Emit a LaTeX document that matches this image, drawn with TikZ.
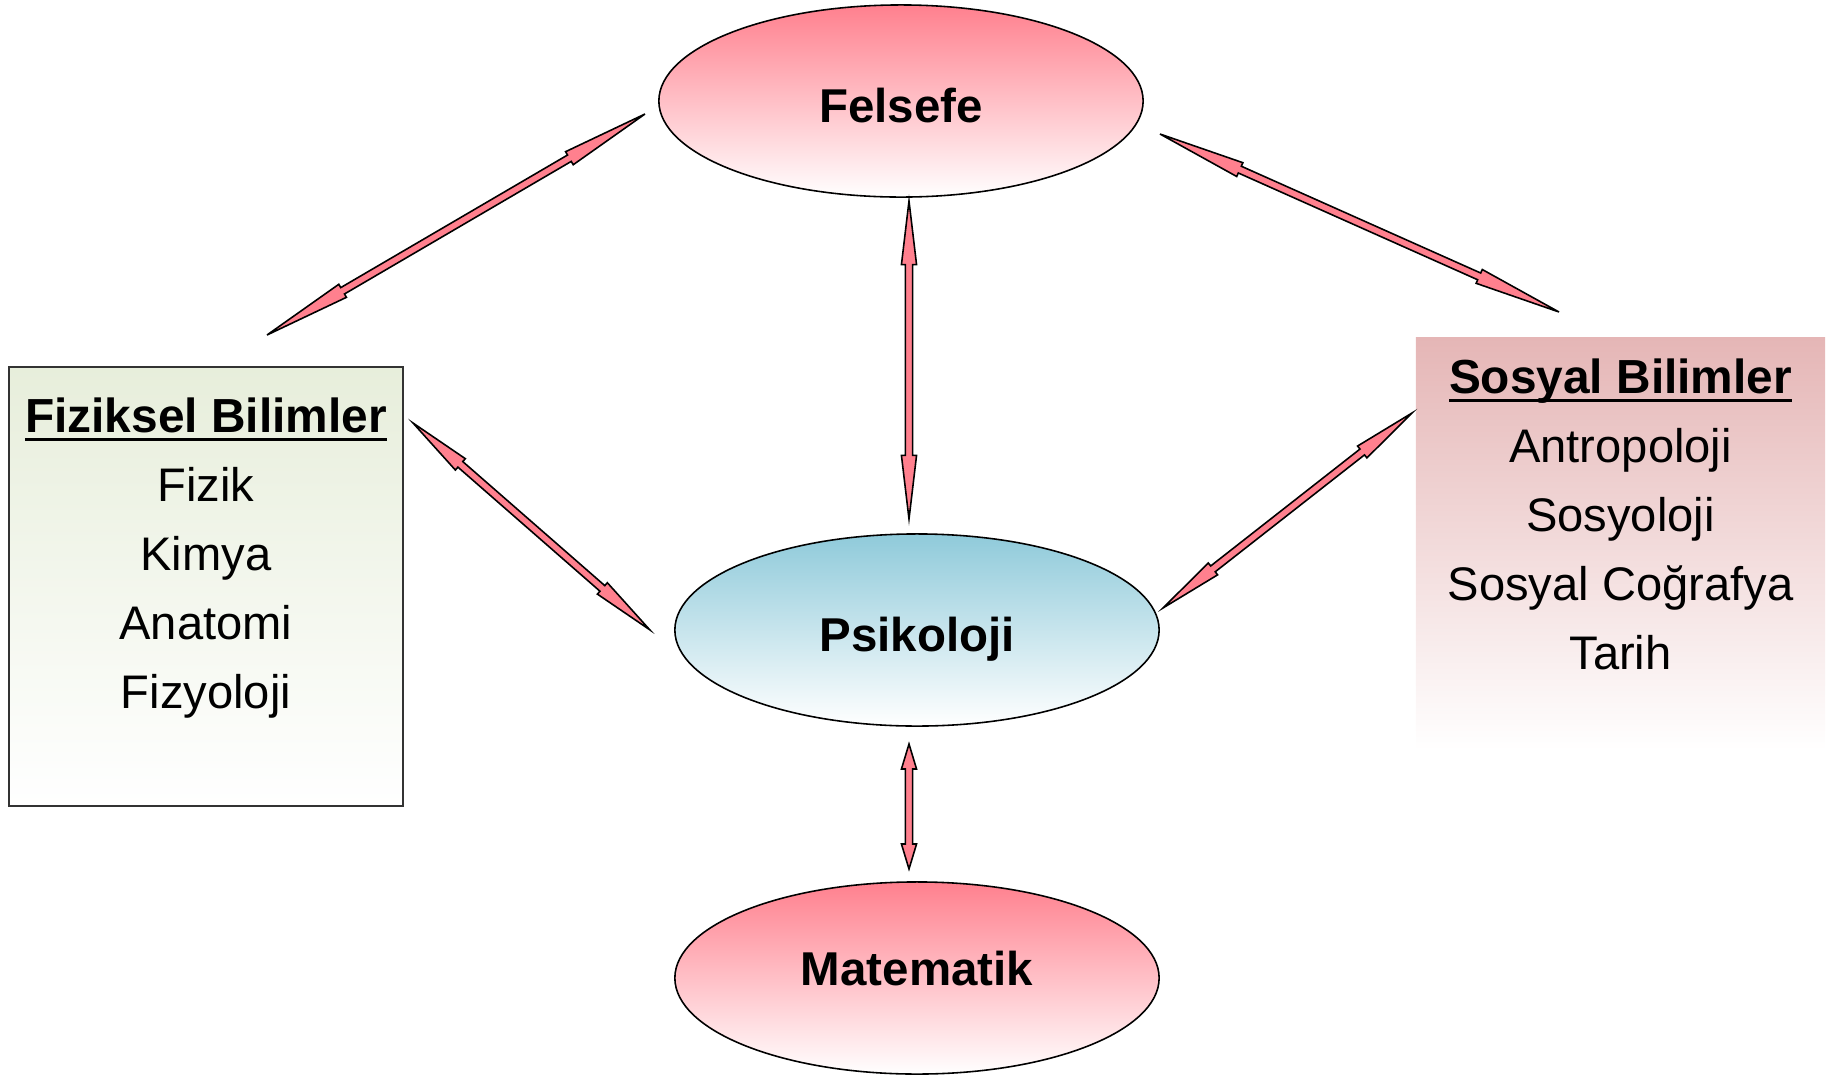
\documentclass[tikz,border=0pt]{standalone}
\usepackage{fontspec}
\setmainfont{Liberation Sans}
\usetikzlibrary{shapes.geometric}

\definecolor{rosy}{RGB}{255,128,142}
\definecolor{sky}{RGB}{143,202,218}
\definecolor{sage}{RGB}{231,238,219}
\definecolor{dusty}{RGB}{229,182,182}

\tikzstyle{topic}=[shape=ellipse,draw,line width=0.45pt,minimum width=4.84cm,minimum height=1.92cm]
\tikzstyle{pinktopic}=[topic,top color=rosy,bottom color=white]
\tikzstyle{bluetopic}=[topic,top color=sky,bottom color=white]
\tikzstyle{topictext}=[inner sep=0,font=\bfseries\fontsize{13.5}{16}\selectfont]
\tikzstyle{fizbox}=[rectangle,draw=black!80,line width=0.45pt,minimum width=3.94cm,minimum height=4.39cm,top color=sage,bottom color=white]
\tikzstyle{sosbox}=[rectangle,minimum width=4.09cm,minimum height=4.12cm,top color=dusty,bottom color=white]
\tikzstyle{head}=[anchor=base,inner sep=0,font=\bfseries\fontsize{13.6}{16}\selectfont]
\tikzstyle{item}=[anchor=base,inner sep=0,font=\fontsize{13.4}{16}\selectfont]
\tikzstyle{arrowbody}=[draw=black,fill=rosy,line width=0.45pt]

\newcommand{\headrule}[1]{\setbox0\hbox{#1}\rlap{\rule[-2.6pt]{\wd0}{0.85pt}}\box0}

% double headed block arrow from #1 to #2, heads are a fifth of the length
\newcommand{\twoway}[2]{%
  \path (#1); \pgfgetlastxy{\arax}{\aray}
  \path (#2); \pgfgetlastxy{\arbx}{\arby}
  \pgfmathsetmacro{\arang}{atan2(\arby-\aray,\arbx-\arax)}
  \pgfmathsetmacro{\arlen}{veclen(\arbx-\arax,\arby-\aray)}
  \pgfmathsetmacro{\arhd}{0.2*\arlen}
  \pgfmathsetmacro{\artl}{\arlen-\arhd}
  \draw[arrowbody,shift={(#1)},rotate=\arang] (0pt,0pt) -- (\arhd pt,2.15pt) -- (\arhd pt,1.05pt)
    -- (\artl pt,1.05pt) -- (\artl pt,2.15pt) -- (\arlen pt,0pt) -- (\artl pt,-2.15pt)
    -- (\artl pt,-1.05pt) -- (\arhd pt,-1.05pt) -- (\arhd pt,-2.15pt) -- cycle;
}

\begin{document}
\begin{tikzpicture}[x=0.01cm,y=-0.01cm]
\useasboundingbox (0,0) rectangle (1835,1078);

% the two boxes
\node[fizbox] (fiz) at (206,586.5) {};
\node[sosbox] (sos) at (1620.5,544) {};

\node[head] (fizh) at (206,432) {\headrule{Fiziksel Bilimler}};
\foreach \t [count=\i] in {Fizik,Kimya,Anatomi,Fizyoloji}
	\node[item] (fiz\i) at (206,432+69*\i) {\t};

\node[head] (sosh) at (1620.5,393) {\headrule{Sosyal Bilimler}};
\foreach \t [count=\i] in {Antropoloji,Sosyoloji,Sosyal Coğrafya,Tarih}
	\node[item] (sos\i) at (1620.5,393+69.2*\i) {\t};

% the three ellipses
\node[pinktopic] (fel) at (901,101) {};
\node[bluetopic] (psi) at (917,630) {};
\node[pinktopic] (mat) at (917,978) {};
\node[topictext] (felt) at (901,106) {Felsefe};
\node[topictext] (psit) at (917,639) {Psikoloji};
\node[topictext] (matt) at (917,969) {Matematik};

% arrow ends
\coordinate (felL) at (645,114);   \coordinate (fizT) at (267,335);
\coordinate (felB) at (909,201);   \coordinate (psiT) at (909,519);
\coordinate (felR) at (1160,134);  \coordinate (sosT) at (1559,312);
\coordinate (fizR) at (413,423);   \coordinate (psiL) at (650,630);
\coordinate (sosL) at (1412,413);  \coordinate (psiR) at (1163,608);
\coordinate (psiB) at (909,744);   \coordinate (matT) at (909,869);

\twoway{felL}{fizT}
\twoway{felB}{psiT}
\twoway{felR}{sosT}
\twoway{fizR}{psiL}
\twoway{sosL}{psiR}
\twoway{psiB}{matT}
\end{tikzpicture}
\end{document}
